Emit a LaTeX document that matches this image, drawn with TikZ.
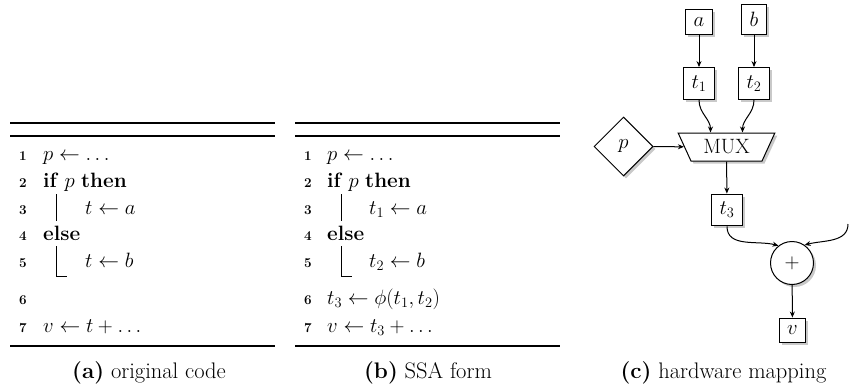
\documentclass[tikz,border=0pt]{standalone}
\usepackage{fontspec}
\usetikzlibrary{shapes.geometric,shadows,arrows.meta}
\begin{document}
\begin{tikzpicture}[x=1pt,y=-1pt,
  font=\huge,
  rulestyle/.style={line width=1.5pt},
  barstyle/.style={line width=1pt},
  num/.style={anchor=base east, inner sep=0pt, font=\fontsize{13.5}{16}\selectfont\bfseries},
  code/.style={anchor=base west, inner sep=0pt},
  captext/.style={anchor=base, inner sep=0pt, font=\fontsize{22.5}{27}\selectfont},
  shad/.style={drop shadow={shadow xshift=2.5pt, shadow yshift=-2.5pt, opacity=0.3, fill=black!70}},
  box/.style={draw, fill=white, line width=1pt, inner sep=8pt, shad},
  mux/.style={trapezium, draw, fill=white, line width=1pt, shape border rotate=180,
    trapezium left angle=60, trapezium right angle=60, trapezium stretches=true,
    minimum width=97pt, minimum height=28pt, inner sep=0pt, shad},
  dia/.style={diamond, draw, fill=white, line width=1pt, minimum width=59pt, minimum height=59pt, inner sep=0pt, shad},
  circ/.style={circle, draw, fill=white, line width=1pt, minimum size=43pt, inner sep=0pt, shad},
  arr/.style={-{Stealth[length=6pt,width=5pt]}, line width=1pt}
]
\useasboundingbox (0,0) rectangle (868,391);

% ---------- (a) original code ----------
\draw[rulestyle] (10,123) -- (275,123);
\draw[rulestyle] (10,136) -- (275,136);
\draw[rulestyle] (10,346) -- (275,346);
\node[num] (an1) at (27,160) {1};
\node[num] (an2) at (27,187) {2};
\node[num] (an3) at (27,214) {3};
\node[num] (an4) at (27,240) {4};
\node[num] (an5) at (27,267) {5};
\node[num] (an6) at (27,304) {6};
\node[num] (an7) at (27,332) {7};
\node[code] (ac1) at (43,160) {$p \leftarrow \ldots$};
\node[code] (ac2) at (43,187) {\textbf{if} $p$ \textbf{then}};
\node[code] (ac3) at (85,214) {$t \leftarrow a$};
\node[code] (ac4) at (43,240) {\textbf{else}};
\node[code] (ac5) at (85,267) {$t \leftarrow b$};
\node[code] (ac7) at (43,332) {$v \leftarrow t + \ldots$};
\draw[barstyle] (56,194) -- (56,221);
\draw[barstyle] (56,246) -- (56,276) -- (67,276);

% ---------- (b) SSA form ----------
\draw[rulestyle] (295,123) -- (560,123);
\draw[rulestyle] (295,136) -- (560,136);
\draw[rulestyle] (295,346) -- (560,346);
\node[num] (bn1) at (312,160) {1};
\node[num] (bn2) at (312,187) {2};
\node[num] (bn3) at (312,214) {3};
\node[num] (bn4) at (312,240) {4};
\node[num] (bn5) at (312,267) {5};
\node[num] (bn6) at (312,304) {6};
\node[num] (bn7) at (312,332) {7};
\node[code] (bc1) at (327,160) {$p \leftarrow \ldots$};
\node[code] (bc2) at (327,187) {\textbf{if} $p$ \textbf{then}};
\node[code] (bc3) at (369,214) {$t_1 \leftarrow a$};
\node[code] (bc4) at (327,240) {\textbf{else}};
\node[code] (bc5) at (369,267) {$t_2 \leftarrow b$};
\node[code] (bc6) at (327,304) {$t_3 \leftarrow \phi(t_1, t_2)$};
\node[code] (bc7) at (327,332) {$v \leftarrow t_3 + \ldots$};
\draw[barstyle] (341,194) -- (341,221);
\draw[barstyle] (341,246) -- (341,276) -- (352,276);

% ---------- (c) hardware mapping ----------
\node[box, anchor=south] (na) at (699,35) {$a$};
\node[box, anchor=south] (nb) at (754,35) {$b$};
\node[box] (t1) at (699,83.5) {$t_1$};
\node[box] (t2) at (754,83.5) {$t_2$};
\node[mux] (mux) at (726.5,147) {MUX};
\node[dia] (p) at (623.5,146.5) {$p$};
\node[box] (t3) at (727,210) {$t_3$};
\node[circ] (plus) at (792,263) {$+$};
\node[box] (v) at (792.5,330.5) {$v$};
\coordinate (rin) at (848,224);

\draw[arr] (na) -- (t1);
\draw[arr] (nb) -- (t2);
\draw[arr] (t1.south) to[out=-90,in=90] ([xshift=-16pt]mux.north);
\draw[arr] (t2.south) to[out=-90,in=90] ([xshift=16pt]mux.north);
\draw[arr] (p) -- (mux);
\draw[arr] (mux) -- (t3);
\draw[arr] (t3.south) to[out=-90,in=165] (plus.128);
\draw[arr] (rin) to[out=-90,in=15] (plus.55);
\draw[arr] (plus) -- (v);

% ---------- captions ----------
\node[captext] (ca) at (149,378) {\textbf{(a)} original code};
\node[captext] (cb) at (428,378) {\textbf{(b)} SSA form};
\node[captext] (cc) at (723.5,378) {\textbf{(c)} hardware mapping};
\end{tikzpicture}
\end{document}
